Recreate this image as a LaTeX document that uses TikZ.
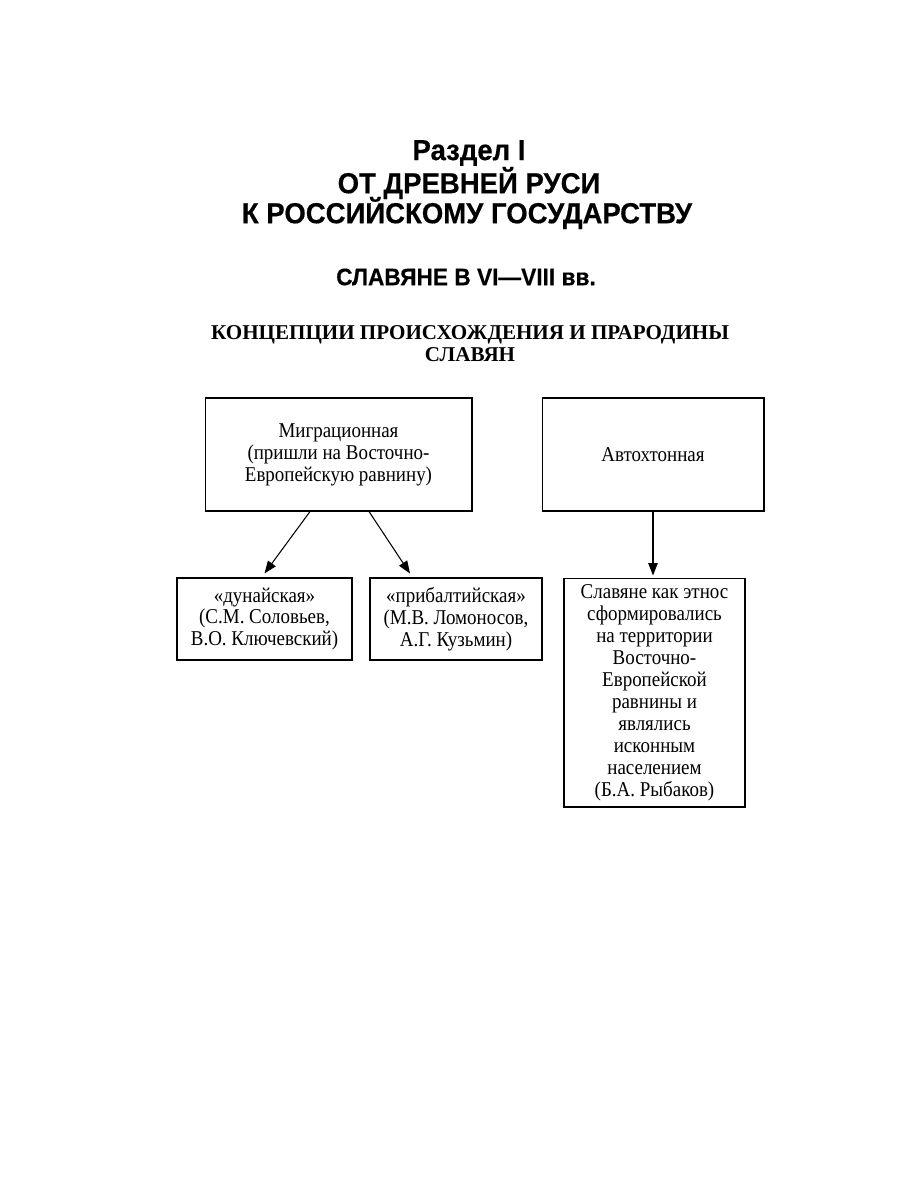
\documentclass[tikz,border=0pt]{standalone}
\usepackage{fontspec}
\setmainfont{Liberation Serif}
\newfontfamily\bxf[FakeStretch=0.9]{Liberation Serif}
\newfontfamily\hd[FakeBold=0.4,FakeStretch=0.95]{Liberation Sans Bold}
\usetikzlibrary{arrows.meta,calc}
\tikzset{
  bx/.style={draw, line width=0.6pt, align=center, inner sep=1pt, font=\bxf\fontsize{12}{12.5}\selectfont},
  arr/.style={line width=0.6pt, -{Triangle[length=2.5mm,width=1.9mm]}},
  ttl/.style={font=\hd\fontsize{16.5}{18}\selectfont, align=center},
}
\begin{document}
\begin{tikzpicture}[x=0.02cm,y=-0.02cm]
\useasboundingbox[fill=white] (0,0) rectangle (900,1200);
\node[ttl] (t1) at (469,153) {Раздел I};
\node[ttl] (t2) at (469,183) {ОТ ДРЕВНЕЙ РУСИ};
\node[ttl] (t3) at (467,213) {К РОССИЙСКОМУ ГОСУДАРСТВУ};
\node[font=\hd\fontsize{13.6}{15}\selectfont] (t4) at (466,277) {СЛАВЯНЕ В VI—VIII вв.};
\node[font=\bfseries\fontsize{12}{12.5}\selectfont, align=center] (t5) at (470,344) {КОНЦЕПЦИИ ПРОИСХОЖДЕНИЯ И ПРАРОДИНЫ\\СЛАВЯН};

\node[bx, minimum width=5.34cm, minimum height=2.26cm] (mig) at (338.5,454.5) {Миграционная\\(пришли на Восточно-\\Европейскую равнину)};
\node[bx, minimum width=4.44cm, minimum height=2.26cm] (avt) at (653,454.5) {Автохтонная};
\node[bx, minimum width=3.5cm, minimum height=1.64cm] (dun) at (264.5,619) {«дунайская»\\(С.М. Соловьев,\\В.О. Ключевский)};
\node[bx, minimum width=3.44cm, minimum height=1.64cm] (pri) at (456,619) {«прибалтийская»\\(М.В. Ломоносов,\\А.Г. Кузьмин)};
\node[bx, minimum width=3.62cm, minimum height=4.58cm] (sla) at (654.5,692.5) {Славяне как этнос\\сформировались\\на территории\\Восточно-\\Европейской\\равнины и\\являлись\\исконным\\населением\\(Б.А. Рыбаков)};

\draw[arr] ([xshift=-0.57cm]mig.south) -- ([yshift=0.08cm]dun.north);
\draw[arr] ([xshift=0.61cm]mig.south) -- ([xshift=-0.92cm,yshift=0.08cm]pri.north);
\draw[arr] (avt.south) -- ([yshift=0.04cm]avt.south |- sla.north);
\end{tikzpicture}
\end{document}
